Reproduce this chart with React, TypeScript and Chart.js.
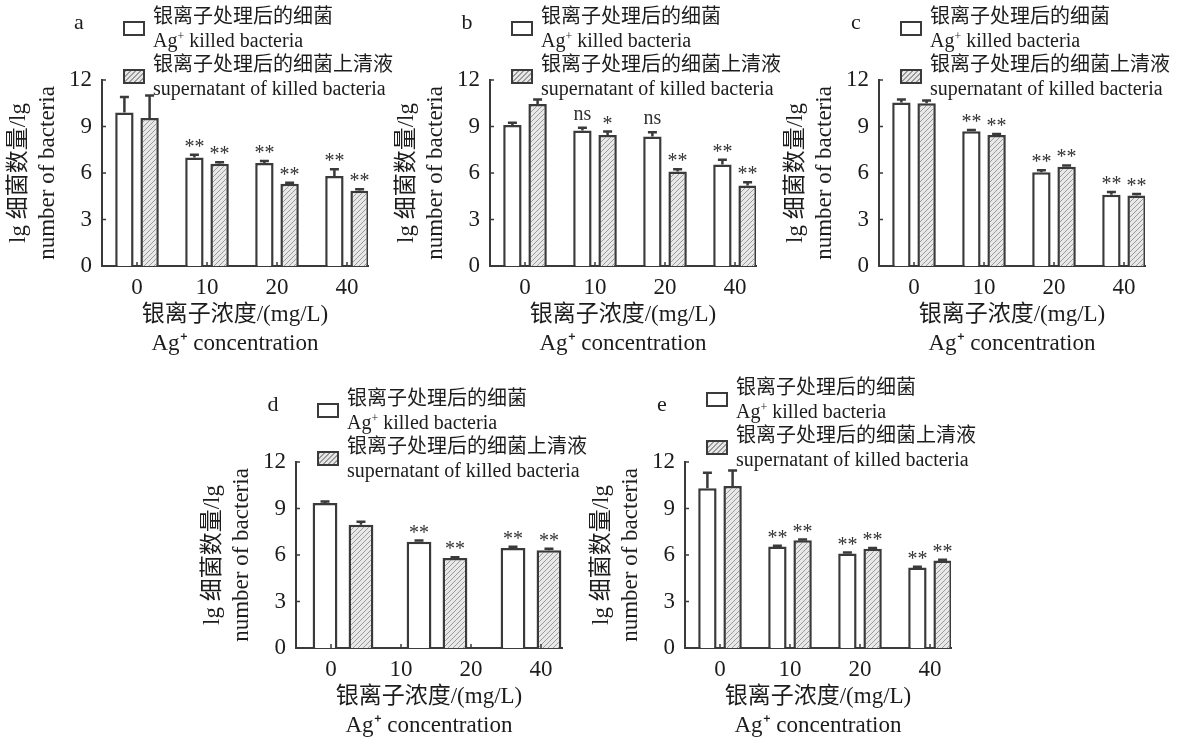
import React, { useEffect, useRef } from 'react';
import { Chart, registerables } from 'chart.js';

Chart.register(...registerables);

const FONT = '"Liberation Serif", "Noto Sans CJK SC", serif';
const INK = '#1c1c1c';
const EDGE = '#3a3a3a';

// ---- shared texts ----
const seriesNamesZh = ['银离子处理后的细菌', '银离子处理后的细菌上清液'];
const seriesNamesEn = ['killed bacteria', 'supernatant of killed bacteria'];
const xTickLabels = ['0', '10', '20', '40'];
const yTitleLines = ['lg 细菌数量/lg', 'number of bacteria'];
const xTitleLines = ['银离子浓度/(mg/L)', 'Ag⁺ concentration'];
const yMin = 0;
const yMax = 12;
const yStep = 3;

// ---- panel a ----
const aKilled = [9.9, 7.0, 6.65, 5.8];
const aKilledErr = [1.0, 0.17, 0.12, 0.45];
const aKilledSig = ['', '**', '**', '**'];
const aSuper = [9.55, 6.6, 5.3, 4.85];
const aSuperErr = [1.45, 0.1, 0.07, 0.1];
const aSuperSig = ['', '**', '**', '**'];

// ---- panel b ----
const bKilled = [9.1, 8.75, 8.35, 6.55];
const bKilledErr = [0.15, 0.17, 0.28, 0.3];
const bKilledSig = ['', 'ns', 'ns', '**'];
const bSuper = [10.45, 8.45, 6.1, 5.2];
const bSuperErr = [0.3, 0.22, 0.15, 0.2];
const bSuperSig = ['', '*', '**', '**'];

// ---- panel c ----
const cKilled = [10.55, 8.7, 6.05, 4.6];
const cKilledErr = [0.2, 0.08, 0.12, 0.17];
const cKilledSig = ['', '**', '**', '**'];
const cSuper = [10.5, 8.45, 6.4, 4.55];
const cSuperErr = [0.17, 0.06, 0.09, 0.1];
const cSuperSig = ['', '**', '**', '**'];

// ---- panel d (three bar groups) ----
const dKilled = [9.35, 6.85, 6.45];
const dKilledErr = [0.1, 0.08, 0.08];
const dKilledSig = ['', '**', '**'];
const dSuper = [7.95, 5.8, 6.3];
const dSuperErr = [0.2, 0.05, 0.1];
const dSuperSig = ['', '**', '**'];

// ---- panel e ----
const eKilled = [10.3, 6.55, 6.1, 5.2];
const eKilledErr = [1.0, 0.05, 0.06, 0.05];
const eKilledSig = ['', '**', '**', '**'];
const eSuper = [10.45, 6.95, 6.4, 5.65];
const eSuperErr = [1.0, 0.05, 0.05, 0.05];
const eSuperSig = ['', '**', '**', '**'];

type PanelDef = {
  letter: string;
  killed: number[]; killedErr: number[]; killedSig: string[];
  sup: number[]; supErr: number[]; supSig: string[];
  L: number; T: number; R: number; B: number;
  barMax: number; catPct: number; barPct: number; legendShift: number;
};

const panels: PanelDef[] = [
  { letter: 'a', killed: aKilled, killedErr: aKilledErr, killedSig: aKilledSig, sup: aSuper, supErr: aSuperErr, supSig: aSuperSig,
    L: 102, T: 80, R: 368, B: 266, barMax: 3.3, catPct: 0.72, barPct: 0.73, legendShift: 0 },
  { letter: 'b', killed: bKilled, killedErr: bKilledErr, killedSig: bKilledSig, sup: bSuper, supErr: bSuperErr, supSig: bSuperSig,
    L: 490, T: 80, R: 756, B: 266, barMax: 3.3, catPct: 0.72, barPct: 0.73, legendShift: 0 },
  { letter: 'c', killed: cKilled, killedErr: cKilledErr, killedSig: cKilledSig, sup: cSuper, supErr: cSuperErr, supSig: cSuperSig,
    L: 879, T: 80, R: 1145, B: 266, barMax: 3.3, catPct: 0.72, barPct: 0.73, legendShift: 0 },
  { letter: 'd', killed: dKilled, killedErr: dKilledErr, killedSig: dKilledSig, sup: dSuper, supErr: dSuperErr, supSig: dSuperSig,
    L: 296, T: 462, R: 562, B: 648, barMax: 2.33, catPct: 0.765, barPct: 0.69, legendShift: 0 },
  { letter: 'e', killed: eKilled, killedErr: eKilledErr, killedSig: eKilledSig, sup: eSuper, supErr: eSuperErr, supSig: eSuperSig,
    L: 685, T: 462, R: 951, B: 648, barMax: 3.3, catPct: 0.72, barPct: 0.73, legendShift: -11 },
];

const Y_AXIS_W = 102;
const TOP_PAD = 80;
const X_AXIS_H = 92;
const RIGHT_PAD = 10;

function makeHatch(ctx: CanvasRenderingContext2D) {
  const s = 5;
  const c = document.createElement('canvas');
  c.width = s; c.height = s;
  const g = c.getContext('2d') as CanvasRenderingContext2D;
  g.fillStyle = '#e8e8e8';
  g.fillRect(0, 0, s, s);
  g.strokeStyle = '#9a9a9a';
  g.lineWidth = 1;
  g.beginPath();
  g.moveTo(0, s); g.lineTo(s, 0);
  g.moveTo(-1, 1); g.lineTo(1, -1);
  g.moveTo(s - 1, s + 1); g.lineTo(s + 1, s - 1);
  g.stroke();
  return ctx.createPattern(c, 'repeat') as CanvasPattern;
}

function PanelChart({ p }: { p: PanelDef }) {
  const ref = useRef<HTMLCanvasElement | null>(null);
  const left = p.L - Y_AXIS_W;
  const top = p.T - TOP_PAD;
  const width = p.R - p.L + Y_AXIS_W + RIGHT_PAD;
  const height = p.B - p.T + TOP_PAD + X_AXIS_H;

  useEffect(() => {
    const canvas = ref.current;
    if (!canvas) return;
    const ctx0 = canvas.getContext('2d') as CanvasRenderingContext2D;
    const hatch = makeHatch(ctx0);
    const idx = p.killed.map((_, i) => i);
    const series = [
      { values: p.killed, errs: p.killedErr, sig: p.killedSig },
      { values: p.sup, errs: p.supErr, sig: p.supSig },
    ];

    const decor = {
      id: 'decor',
      afterDatasetsDraw(chart: any) {
        const ctx = chart.ctx as CanvasRenderingContext2D;
        const y = chart.scales.y;
        ctx.save();
        ctx.strokeStyle = EDGE;
        ctx.lineWidth = 2.5;
        series.forEach((s, di) => {
          const meta = chart.getDatasetMeta(di);
          meta.data.forEach((bar: any, j: number) => {
            const v = s.values[j];
            const e = s.errs[j];
            const pTop = y.getPixelForValue(v);
            const cap = y.getPixelForValue(v + e);
            ctx.beginPath();
            ctx.moveTo(bar.x, pTop);
            ctx.lineTo(bar.x, cap);
            ctx.moveTo(bar.x - 4.5, cap);
            ctx.lineTo(bar.x + 4.5, cap);
            ctx.stroke();
            const lab = s.sig[j];
            if (lab) {
              ctx.fillStyle = '#333';
              ctx.font = `20px ${FONT}`;
              ctx.textAlign = 'center';
              ctx.textBaseline = 'alphabetic';
              ctx.fillText(lab, bar.x, cap - (lab.includes('*') ? 2 : 8));
            }
          });
        });
        // inward tick marks
        const area = chart.chartArea;
        const xt = chart.scales.xt;
        ctx.lineWidth = 1.5;
        ctx.beginPath();
        y.ticks.forEach((t: any) => {
          const py = y.getPixelForValue(t.value);
          ctx.moveTo(area.left, py);
          ctx.lineTo(area.left + 4, py);
        });
        xt.ticks.forEach((t: any) => {
          const px = xt.getPixelForValue(t.value);
          ctx.moveTo(px, area.bottom);
          ctx.lineTo(px, area.bottom - 4);
        });
        ctx.stroke();
        ctx.restore();
      },
    };

    const chart = new Chart(canvas, {
      type: 'bar',
      data: {
        labels: idx,
        datasets: [
          {
            label: seriesNamesZh[0],
            data: p.killed.map((v, i) => ({ x: i, y: v })),
            backgroundColor: '#ffffff',
            borderColor: EDGE,
            borderWidth: 2.5,
            xAxisID: 'x', yAxisID: 'y',
            categoryPercentage: p.catPct, barPercentage: p.barPct,
          },
          {
            label: seriesNamesZh[1],
            data: p.sup.map((v, i) => ({ x: i, y: v })),
            backgroundColor: hatch,
            borderColor: EDGE,
            borderWidth: 2.5,
            xAxisID: 'x', yAxisID: 'y',
            categoryPercentage: p.catPct, barPercentage: p.barPct,
          },
        ],
      } as any,
      options: {
        responsive: false,
        maintainAspectRatio: false,
        animation: false,
        layout: { padding: { top: TOP_PAD, right: RIGHT_PAD, left: 0, bottom: 0 } },
        plugins: { legend: { display: false }, tooltip: { enabled: false } },
        scales: {
          x: {
            type: 'linear', display: false, offset: false,
            min: -0.5, max: p.barMax,
            afterBuildTicks: (s: any) => { s.ticks = idx.map((i) => ({ value: i })); },
          },
          xt: {
            type: 'linear', position: 'bottom', offset: false, z: 1,
            min: -0.5, max: 3.3,
            afterBuildTicks: (s: any) => { s.ticks = xTickLabels.map((_, i) => ({ value: i })); },
            afterFit: (s: any) => { s.height = X_AXIS_H; },
            grid: { display: false, drawTicks: false },
            border: { display: true, color: EDGE, width: 2 },
            ticks: {
              autoSkip: false, maxRotation: 0, padding: 8, color: INK,
              font: { family: FONT, size: 23 },
              callback: (v: any) => xTickLabels[Math.round(Number(v))] ?? '',
            },
            title: {
              display: true, text: xTitleLines, color: INK,
              font: { family: FONT, size: 23, lineHeight: 1.25 },
              padding: { top: 0, bottom: 0 },
            },
          },
          y: {
            type: 'linear', position: 'left', z: 1,
            min: yMin, max: yMax,
            afterFit: (s: any) => { s.width = Y_AXIS_W; },
            grid: { display: false, drawTicks: false },
            border: { display: true, color: EDGE, width: 2 },
            ticks: {
              stepSize: yStep, padding: 10, color: INK,
              font: { family: FONT, size: 23 },
            },
            title: {
              display: true, text: yTitleLines, color: INK,
              font: { family: FONT, size: 23, lineHeight: 1.25 },
              padding: { top: 5, bottom: 0 },
            },
          },
        },
      } as any,
      plugins: [decor],
    });
    return () => chart.destroy();
  }, [p]);

  const legendTop = p.T - 76 + p.legendShift;
  const lineH = 24;
  const boxStyle = (cy: number, hatched: boolean): React.CSSProperties => ({
    position: 'absolute', left: p.L + 21, top: cy - 7.5, width: 22, height: 15,
    boxSizing: 'border-box', border: `2.5px solid ${EDGE}`,
    background: hatched
      ? 'repeating-linear-gradient(135deg, #9a9a9a 0px, #9a9a9a 1px, #e8e8e8 1px, #e8e8e8 3.5px)'
      : '#ffffff',
  });
  const textLine = (i: number, content: React.ReactNode) => (
    <div key={i} style={{ position: 'absolute', left: p.L + 51, top: legendTop + i * lineH, height: lineH,
      lineHeight: `${lineH}px`, fontSize: 20, whiteSpace: 'nowrap', color: INK }}>{content}</div>
  );
  const sup = <span style={{ fontSize: 12, position: 'relative', top: -7 }}>+</span>;

  return (
    <>
      <canvas ref={ref} width={width} height={height}
        style={{ position: 'absolute', left, top, width, height }} />
      <div style={{ position: 'absolute', left: p.L - 35, top: p.T - 70, width: 24, textAlign: 'center',
        fontSize: 22, lineHeight: '24px', color: INK }}>{p.letter}</div>
      <div style={boxStyle(legendTop + lineH, false)} />
      <div style={boxStyle(legendTop + 3 * lineH, true)} />
      {textLine(0, seriesNamesZh[0])}
      {textLine(1, <>Ag{sup} {seriesNamesEn[0]}</>)}
      {textLine(2, seriesNamesZh[1])}
      {textLine(3, seriesNamesEn[1])}
    </>
  );
}

export default function App() {
  useEffect(() => {
    document.body.style.overflow = 'hidden';
  }, []);
  return (
    <div style={{ position: 'absolute', left: 0, top: 0, width: 1177, height: 743, overflow: 'hidden',
      background: '#ffffff', fontFamily: FONT }}>
      {panels.map((p) => <PanelChart key={p.letter} p={p} />)}
    </div>
  );
}
